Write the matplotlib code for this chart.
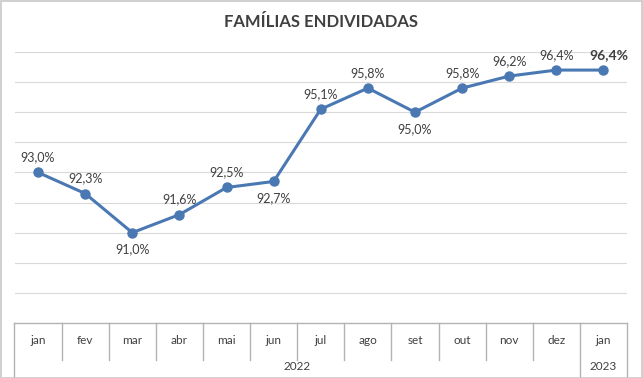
import matplotlib.pyplot as plt
from matplotlib.patches import Rectangle
from matplotlib.transforms import blended_transform_factory

months = ['jan', 'fev', 'mar', 'abr', 'mai', 'jun', 'jul', 'ago', 'set', 'out', 'nov', 'dez', 'jan']
years = ['2022', '2023']
year_counts = [12, 1]
values = [93.0, 92.3, 91.0, 91.6, 92.5, 92.7, 95.1, 95.8, 95.0, 95.8, 96.2, 96.4, 96.4]
labels = ['93,0%', '92,3%', '91,0%', '91,6%', '92,5%', '92,7%', '95,1%', '95,8%',
          '95,0%', '95,8%', '96,2%', '96,4%', '96,4%']
label_below = [False, False, True, False, False, True, False, False, True, False, False, False, False]

plt.rcParams['font.family'] = ['Lato', 'DejaVu Sans']

fig = plt.figure(figsize=(6.43, 3.78), dpi=100)
ax = fig.add_axes([14.5 / 643, 1 - 323 / 378, 612.5 / 643, 271 / 378])

line_color = '#4a78b3'
grid_color = '#d9d9d9'
box_color = '#b3b3b3'
text_color = '#404040'

x = list(range(len(values)))
ax.plot(x, values, color=line_color, lw=2.2, marker='o', ms=6.5, zorder=3)

ax.set_xlim(-0.5, len(values) - 0.5)
ax.set_ylim(88, 97)
for g in range(89, 98):
    ax.axhline(g, color=grid_color, lw=0.8, zorder=1)
for s in ax.spines.values():
    s.set_visible(False)
ax.set_xticks([])
ax.set_yticks([])

for i, (v, lab, below) in enumerate(zip(values, labels, label_below)):
    last = i == len(values) - 1
    dy = -12 if below else 11
    ax.annotate(lab, (i, v), xytext=(4 if last else 0, dy), textcoords='offset points',
                ha='center', va='center', fontsize=10 if last else 9,
                fontweight='bold' if last else 'normal', color=text_color)

# category table under the plot
tr = blended_transform_factory(ax.transData, ax.transAxes)
month_bottom = -37 / 271
full_bottom = -54 / 271
n = len(months)
ax.plot([-0.5, n - 0.5], [0, 0], color=box_color, lw=1, transform=tr, clip_on=False)
boundaries = [0]
for c in year_counts:
    boundaries.append(boundaries[-1] + c)
for k in range(n + 1):
    yb = full_bottom if k in boundaries else month_bottom
    ax.plot([k - 0.5, k - 0.5], [0, yb], color=box_color, lw=1, transform=tr, clip_on=False)
for i, m in enumerate(months):
    ax.text(i, -17 / 271, m, transform=tr, ha='center', va='center', fontsize=8.5, color=text_color)
for yr, a, b in zip(years, boundaries[:-1], boundaries[1:]):
    ax.text((a + b - 1) / 2, -43 / 271, yr, transform=tr, ha='center', va='center',
            fontsize=8.5, color=text_color)

fig.text(0.5, 1 - 22 / 378, 'FAMÍLIAS ENDIVIDADAS', ha='center', va='center',
         fontsize=12, fontweight='bold', color=text_color)

fig.patches.append(Rectangle((0.5 / 643, 0.5 / 378), 641 / 643, 376.5 / 378, transform=fig.transFigure,
                             fill=False, edgecolor='#c8c8c8', lw=1.2))

fig.savefig('out.png', dpi=100)
